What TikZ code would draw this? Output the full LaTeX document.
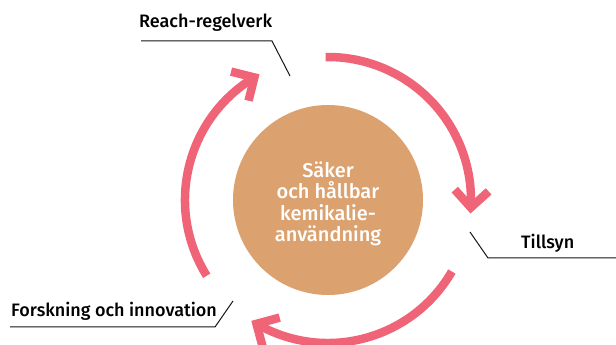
\documentclass[tikz,border=0pt]{standalone}
\usepackage{fontspec}
\setmainfont{Fira Sans Medium}
\usetikzlibrary{calc}
\definecolor{ringcol}{RGB}{240,100,120}
\definecolor{corecol}{RGB}{219,161,110}
\definecolor{leadcol}{RGB}{20,20,20}
\tikzset{
  ringarc/.style={draw=ringcol, line width=8.5pt, line cap=butt},
  chevron/.style={draw=ringcol, line width=8.5pt, line join=miter, line cap=butt},
  lab/.style={font=\fontsize{18}{21}\selectfont, text=black, inner sep=0pt},
  leader/.style={draw=leadcol, line width=1pt},
}
\begin{document}
\begin{tikzpicture}[x=1pt,y=1pt]
\useasboundingbox (0,0) rectangle (616,345);
\coordinate (C) at (328,145);
% core
\fill[corecol] (C) circle[radius=95];
\node[align=center, text=white, inner sep=0pt,
      font=\fontsize{20}{21.5}\selectfont] (core) at (328,141)
  {Säker\\och hållbar\\kemikalie-\\användning};
% arcs with chevron heads
\foreach \s/\e/\n in {91/-3/a, -30/-120/b, 212/121/c}{
  \coordinate (tip\n) at ($(C)+(\e:143)$);
  \draw[ringarc] ($(C)+(\s:143)$) arc[start angle=\s, end angle=\e+1, radius=143];
  \draw[chevron] ($(tip\n)+(\e+45:24)$) -- (tip\n) -- ($(tip\n)+(\e+135:24)$);
}
% labels
\node[lab, anchor=base west] (reach) at (139,317) {Reach-regelverk};
\node[lab, anchor=base west] (tillsyn) at (521,96) {Tillsyn};
\node[lab, anchor=base west] (forsk) at (11,28) {Forskning och innovation};
% leader lines
\coordinate (r1) at (141,304); \coordinate (r2) at (272,304); \coordinate (r3) at (290,269);
\coordinate (t1) at (470,113); \coordinate (t2) at (488,87); \coordinate (t3) at (616,87);
\coordinate (f1) at (10,18); \coordinate (f2) at (215,18); \coordinate (f3) at (233,44);
\draw[leader] (r1) -- (r2) -- (r3);
\draw[leader] (t1) -- (t2) -- (t3);
\draw[leader] (f1) -- (f2) -- (f3);
\end{tikzpicture}
\end{document}
